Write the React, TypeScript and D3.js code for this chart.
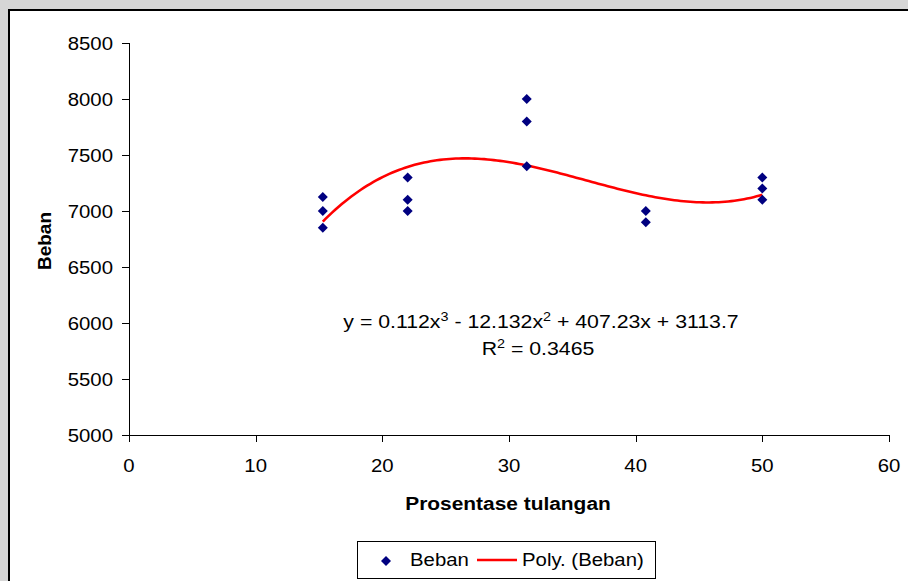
import React from "react";
import * as d3 from "d3";

// measured points (Prosentase tulangan, Beban)
const pctValues = [15.3, 15.3, 15.3, 22, 22, 22, 31.4, 31.4, 31.4, 40.8, 40.8, 50, 50, 50];
const bebanValues = [7125, 7000, 6850, 7300, 7100, 7000, 8000, 7800, 7400, 7000, 6900, 7300, 7200, 7100];
// poly trendline coefficients as printed on the chart: c3, c2, c1, c0
const polyCoef = [0.112, -12.132, 407.23, 3113.7];
const xTicks = [0, 10, 20, 30, 40, 50, 60];
const yTicks = [5000, 5500, 6000, 6500, 7000, 7500, 8000, 8500];

const W = 908;
const H = 581;
const font = "'Liberation Sans', Arial, sans-serif";
const SX = 1.1; // the original picture is a bit stretched sideways

// text drawn at (x,y), widened by sx
const T = ({ x, y, sx = SX, children, ...rest }: any) => (
  <g transform={`translate(${x},${y}) scale(${sx},1)`}>
    <text x={0} y={0} fontSize={18.5} {...rest}>
      {children}
    </text>
  </g>
);

const App = () => {
  const x = d3.scaleLinear().domain([0, 60]).range([129, 889]);
  const y = d3.scaleLinear().domain([5000, 8500]).range([435, 43]);

  const poly = (v: number) =>
    polyCoef[0] * v * v * v + polyCoef[1] * v * v + polyCoef[2] * v + polyCoef[3];
  const xMin = d3.min(pctValues) as number;
  const xMax = d3.max(pctValues) as number;
  const trendX = d3.range(xMin, xMax, 0.25).concat([xMax]);
  const trendLine = d3
    .line<number>()
    .x((d) => x(d))
    .y((d) => y(poly(d)));

  const diamond = d3.symbol().type(d3.symbolDiamond2).size(64)();

  return (
    <svg
      width={W}
      height={H}
      style={{ position: "absolute", left: 0, top: 0, background: "#d6d6d6" }}
      fontFamily={font}
    >
      <rect x={9} y={10} width={W + 10} height={H + 10} fill="#fff" stroke="#000" strokeWidth={2} />

      {/* y axis */}
      <line x1={129.5} x2={129.5} y1={y(8500)} y2={y(5000)} stroke="#000" />
      {yTicks.map((t) => (
        <g key={t}>
          <line x1={122} x2={129} y1={Math.round(y(t)) + 0.5} y2={Math.round(y(t)) + 0.5} stroke="#000" />
          <T x={113} y={y(t)} dy="0.36em" textAnchor="end">
            {t}
          </T>
        </g>
      ))}

      {/* x axis */}
      <line x1={x(0)} x2={x(60)} y1={435.5} y2={435.5} stroke="#000" />
      {xTicks.map((t) => (
        <g key={t}>
          <line x1={Math.round(x(t)) + 0.5} x2={Math.round(x(t)) + 0.5} y1={435} y2={442} stroke="#000" />
          <T x={x(t)} y={471.5} textAnchor="middle">
            {t}
          </T>
        </g>
      ))}

      <T x={508} y={510} textAnchor="middle" fontSize={19} fontWeight="bold">
        Prosentase tulangan
      </T>
      <text
        transform="translate(51,241) rotate(-90)"
        textAnchor="middle"
        fontSize={19}
        fontWeight="bold"
      >
        Beban
      </text>

      {/* trendline */}
      <path d={trendLine(trendX) || ""} fill="none" stroke="#ff0000" strokeWidth={2.6} />

      {/* points */}
      {pctValues.map((p, i) => (
        <path key={i} d={diamond || ""} transform={`translate(${x(p)},${y(bebanValues[i])})`} fill="#000080" />
      ))}

      {/* equation */}
      <T x={541} y={328} sx={1.15} textAnchor="middle">
        y = 0.112x<tspan dy={-7} fontSize={12.5}>3</tspan>
        <tspan dy={7}> - 12.132x</tspan>
        <tspan dy={-7} fontSize={12.5}>2</tspan>
        <tspan dy={7}> + 407.23x + 3113.7</tspan>
      </T>
      <T x={538} y={355} sx={1.15} textAnchor="middle">
        R<tspan dy={-7} fontSize={12.5}>2</tspan>
        <tspan dy={7}> = 0.3465</tspan>
      </T>

      {/* legend */}
      <rect x={357.5} y={541.5} width={298} height={37} fill="#fff" stroke="#000" />
      <path d={diamond || ""} transform="translate(386,561)" fill="#000080" />
      <T x={410} y={566}>Beban</T>
      <line x1={477} x2={517} y1={560} y2={560} stroke="#ff0000" strokeWidth={2.6} />
      <T x={522} y={566}>Poly. (Beban)</T>
    </svg>
  );
};

export default App;
